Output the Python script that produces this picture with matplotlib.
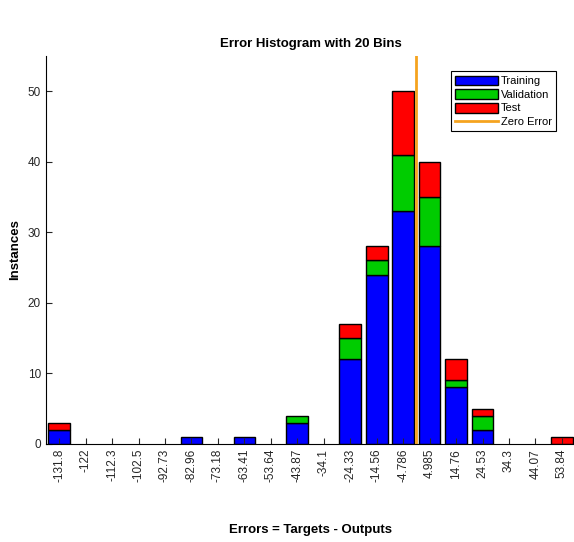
import numpy as np
import matplotlib
matplotlib.use("Agg")
import matplotlib.pyplot as plt

plt.rcParams['font.family'] = ['Liberation Sans', 'DejaVu Sans']

# bin centres of the error histogram
bin_labels = ["-131.8", "-122", "-112.3", "-102.5", "-92.73", "-82.96", "-73.18",
              "-63.41", "-53.64", "-43.87", "-34.1", "-24.33", "-14.56", "-4.786",
              "4.985", "14.76", "24.53", "34.3", "44.07", "53.84"]
bin_centers = [float(s) for s in bin_labels]

training = [2, 0, 0, 0, 0, 1, 0, 1, 0, 3, 0, 12, 24, 33, 28, 8, 2, 0, 0, 0]
validation = [0, 0, 0, 0, 0, 0, 0, 0, 0, 1, 0, 3, 2, 8, 7, 1, 2, 0, 0, 0]
test = [1, 0, 0, 0, 0, 0, 0, 0, 0, 0, 0, 2, 2, 9, 5, 3, 1, 0, 0, 1]

idx = np.arange(len(bin_labels))
tr = np.array(training)
va = np.array(validation)
te = np.array(test)

fig = plt.figure(figsize=(5.74, 5.42), dpi=100)
ax = fig.add_axes([0.080, 0.181, 0.922, 0.716])

w = 0.82


def stacked(vals, base, color, label):
    # skip empty bins so no flat outlines are drawn on the axis
    m = vals > 0
    return ax.bar(idx[m], vals[m], w, bottom=base[m], color=color,
                  edgecolor='black', linewidth=1, label=label)


h1 = stacked(tr, np.zeros_like(tr), (0, 0, 1), 'Training')
h2 = stacked(va, tr, (0, 0.8, 0), 'Validation')
h3 = stacked(te, tr + va, (1, 0, 0), 'Test')

# zero error position in bin-index coordinates
zero_x = np.interp(0, bin_centers, idx)
h4 = ax.axvline(zero_x, color='#f5a31f', linewidth=2, label='Zero Error')

ax.set_xlim(-0.5, 19.5)
ax.set_ylim(0, 55)
ax.set_xticks(idx)
ax.set_xticklabels(bin_labels, rotation=90, fontsize=8.5)
ax.set_yticks([0, 10, 20, 30, 40, 50])
ax.tick_params(direction='in', length=4, labelsize=8.5, colors='#262626')
for s in ['top', 'right']:
    ax.spines[s].set_visible(False)

ax.set_title('Error Histogram with 20 Bins', fontsize=9.5, fontweight='bold')
ax.set_xlabel('Errors = Targets - Outputs', fontsize=9.5, fontweight='bold', labelpad=30)
ax.set_ylabel('Instances', fontsize=9.5, fontweight='bold', labelpad=5)

leg = ax.legend([h1, h2, h3, h4], ['Training', 'Validation', 'Test', 'Zero Error'],
                loc='upper right', bbox_to_anchor=(0.975, 0.975), fontsize=8,
                fancybox=False, edgecolor='black', framealpha=1,
                handlelength=3.8, handleheight=1.0, borderpad=0.4, labelspacing=0.25,
                handletextpad=0.3)
leg.get_frame().set_linewidth(0.8)

fig.savefig('out.png', dpi=100)
